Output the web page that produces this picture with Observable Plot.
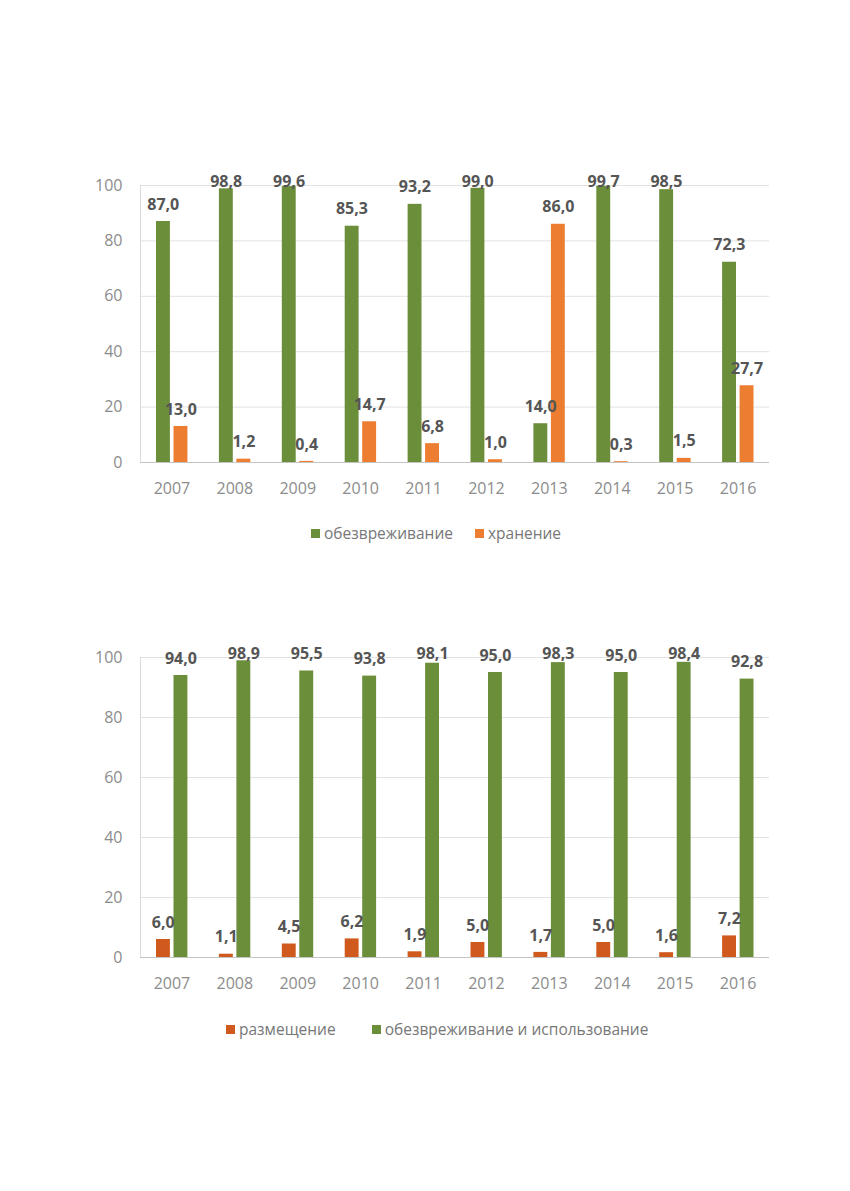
<!DOCTYPE html>
<html><head><meta charset="utf-8">
<script src="https://cdn.jsdelivr.net/npm/d3@7"></script>
<script src="https://cdn.jsdelivr.net/npm/@observablehq/plot@0.6"></script>
<style>
html,body{margin:0;padding:0;background:#fff;}
body{width:850px;height:1191px;position:relative;font-family:"Open Sans",sans-serif;overflow:hidden;}
.chart{position:absolute;left:0;width:850px;}
.legend{position:absolute;display:flex;align-items:center;font-size:15.5px;color:#777;white-space:nowrap;line-height:20px;}
.legend .item{display:flex;align-items:center;}
.legend .sw{display:inline-block;width:9px;height:9px;margin-right:4px;}
</style></head><body>
<div id="c1" class="chart" style="top:150px"></div>
<div id="l1" class="legend" style="top:523px;left:311px"></div>
<div id="c2" class="chart" style="top:620px"></div>
<div id="l2" class="legend" style="top:1019px;left:226px"></div>
<script>
const years = ["2007","2008","2009","2010","2011","2012","2013","2014","2015","2016"];
const yTicks = [0, 20, 40, 60, 80, 100];

// Chart 1
const neutralization1 = [87.0, 98.8, 99.6, 85.3, 93.2, 99.0, 14.0, 99.7, 98.5, 72.3];
const storage1 = [13.0, 1.2, 0.4, 14.7, 6.8, 1.0, 86.0, 0.3, 1.5, 27.7];
const names1 = ["обезвреживание", "хранение"];
const colors1 = ["#6b8e3b", "#ed7d31"];

// Chart 2
const placement2 = [6.0, 1.1, 4.5, 6.2, 1.9, 5.0, 1.7, 5.0, 1.6, 7.2];
const neutralUse2 = [94.0, 98.9, 95.5, 93.8, 98.1, 95.0, 98.3, 95.0, 98.4, 92.8];
const names2 = ["размещение", "обезвреживание и использование"];
const colors2 = ["#d05a1e", "#6b8e3b"];

const fmt = v => d3.format(".1f")(v).replace(".", ",");

function makeChart(seriesValues, colors, opts) {
  const tables = seriesValues.map(vals => years.map((y, i) => ({year: y, value: vals[i]})));
  const barStyles = [
    {insetLeft: 16, insetRight: 33, dx: -8.7},
    {insetLeft: 33.5, insetRight: 15.5, dx: 9}
  ];
  const marks = [
    Plot.ruleY(yTicks.slice(1), {stroke: "#e2e2e2", strokeWidth: 1}),
    Plot.frame({anchor: "left", stroke: "#dadada"})
  ];
  tables.forEach((t, k) => {
    marks.push(Plot.barY(t, {x: "year", y: "value", fill: colors[k],
      insetLeft: barStyles[k].insetLeft, insetRight: barStyles[k].insetRight}));
  });
  marks.push(Plot.ruleY([0], {stroke: "#c4c4c4", strokeWidth: 1}));
  tables.forEach((t, k) => {
    marks.push(Plot.text(t, {x: "year", y: d => Math.min(d.value, opts.clamp),
      text: d => fmt(d.value), dx: barStyles[k].dx, dy: -17,
      fontWeight: "bold", fontSize: 16, fill: "#555"}));
  });
  return Plot.plot({
    width: 850, height: opts.height,
    marginLeft: 140, marginRight: 81, marginTop: opts.marginTop, marginBottom: opts.marginBottom,
    style: {fontFamily: "'Open Sans', sans-serif", fontSize: "16px", color: "#8c8c8c", background: "#fff"},
    x: {domain: years, padding: 0, round: false, tickSize: 0, tickPadding: 20, label: null},
    y: {domain: [0, 100], ticks: yTicks, tickSize: 0, tickPadding: 18, label: null},
    marks
  });
}

document.getElementById("c1").appendChild(makeChart([neutralization1, storage1], colors1,
  {height: 360, marginTop: 35, marginBottom: 48, clamp: 95.3}));
document.getElementById("c2").appendChild(makeChart([placement2, neutralUse2], colors2,
  {height: 380, marginTop: 37, marginBottom: 43, clamp: 95.7}));

function legend(id, names, colors, gap) {
  const el = document.getElementById(id);
  el.style.gap = gap + "px";
  names.forEach((n, i) => {
    const it = document.createElement("div");
    it.className = "item";
    const sw = document.createElement("span");
    sw.className = "sw"; sw.style.background = colors[i];
    it.appendChild(sw);
    it.appendChild(document.createTextNode(n));
    el.appendChild(it);
  });
}
legend("l1", names1, colors1, 22);
legend("l2", names2, colors2, 36);
</script>
</body></html>
